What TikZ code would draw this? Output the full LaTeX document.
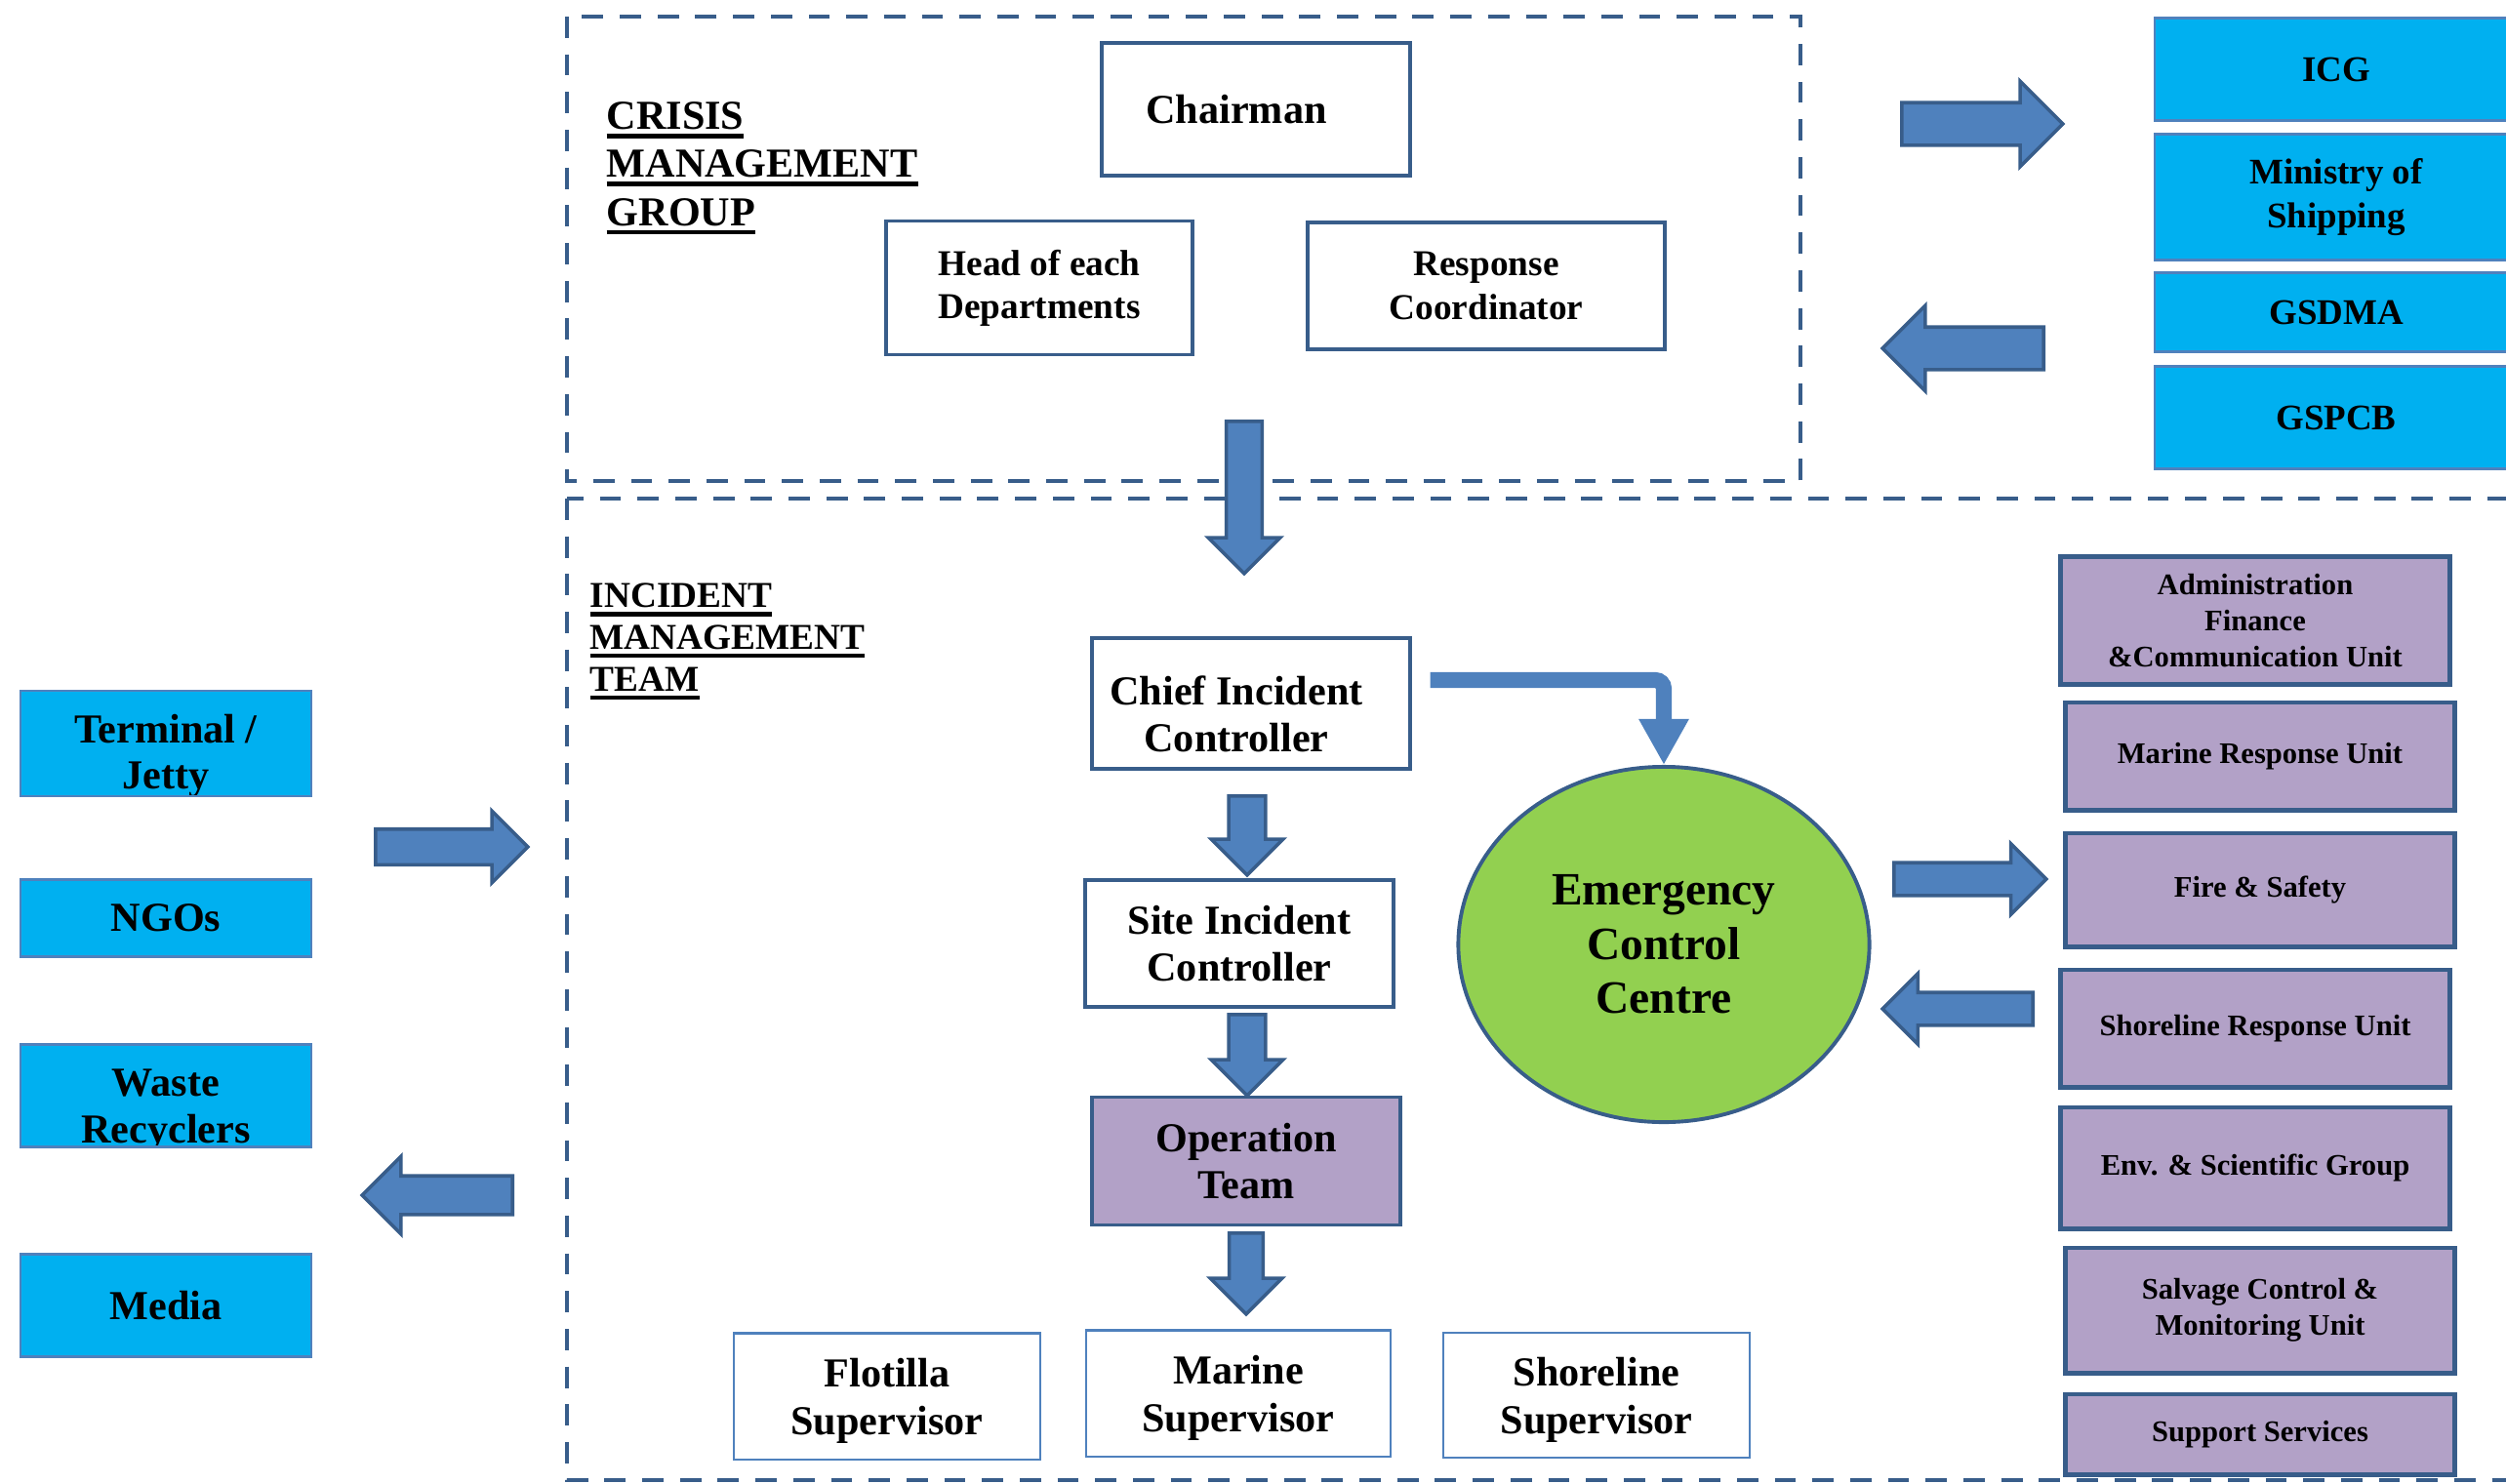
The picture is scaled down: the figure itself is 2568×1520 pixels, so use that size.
\documentclass[tikz,border=0pt]{standalone}
\usepackage{fontspec}
\setmainfont{Liberation Serif}
\usetikzlibrary{calc,shapes.geometric,shapes.arrows,arrows.meta}
\definecolor{boxline}{RGB}{56,93,138}
\definecolor{arrowfill}{RGB}{79,129,189}
\definecolor{agency}{RGB}{0,176,240}
\definecolor{unitfill}{RGB}{178,161,199}
\definecolor{eccgreen}{RGB}{146,208,80}
\newcommand{\ulword}[1]{\setbox0\hbox{#1}\leavevmode\rlap{\rule[-2.6pt]{\wd0}{1.3pt}}\box0}

\tikzset{
  groupframe/.style={boxline,line width=1.4pt,dash pattern=on 6.2pt off 4.8pt},
  grouplabel/.style={inner sep=0pt,align=left,font=\bfseries\fontsize{12}{14}\selectfont},
  rolebox/.style={draw=boxline,line width=1.1pt,fill=white,inner sep=1pt,align=center,font=\bfseries\fontsize{12}{13.5}\selectfont},
  roletext/.style={inner sep=0pt,align=center,font=\bfseries\fontsize{12}{13.5}\selectfont},
  supbox/.style={draw=arrowfill,line width=0.6pt,fill=white,inner sep=1pt,align=center,font=\bfseries\fontsize{12}{14}\selectfont},
  agencybox/.style={draw=arrowfill,line width=0.6pt,fill=agency,inner sep=1pt,align=center,font=\bfseries\fontsize{10.5}{12.6}\selectfont},
  unitbox/.style={draw=boxline,line width=1.4pt,fill=unitfill,inner sep=1pt,align=center,minimum width=3.98cm,font=\bfseries\fontsize{8.7}{10.5}\selectfont},
  blockarrow/.style={single arrow,draw=boxline,fill=arrowfill,line width=1pt,inner xsep=0pt,single arrow tip angle=90,anchor=tail},
  elbowline/.style={arrowfill,line width=4.6pt,rounded corners=2.5pt,-{Triangle[length=13.4pt,width=13.7pt]}}
}

\begin{document}
\begin{tikzpicture}[x=0.01cm,y=-0.01cm]
\useasboundingbox (0,0) rectangle (2568,1520);

% group frames
\draw[groupframe] (581,17) rectangle (1845,493);
\draw[groupframe] (581,511) rectangle (2620,1517);
\node[grouplabel,anchor=north west] (cmglabel) at (621,104) {\ulword{CRISIS}\\\ulword{MANAGEMENT}\\\ulword{GROUP}};
\node[grouplabel,anchor=north west,font=\bfseries\fontsize{10.6}{12.2}\selectfont] (imtlabel) at (604,597) {\ulword{INCIDENT}\\\ulword{MANAGEMENT}\\\ulword{TEAM}};

% crisis management group
\node[rolebox,minimum width=3.15cm,minimum height=1.36cm,label={[roletext,xshift=-0.2cm]center:Chairman}] (chair) at (1287,112) {};
\node[rolebox,minimum width=3.14cm,minimum height=1.37cm,font=\bfseries\fontsize{10.6}{12.6}\selectfont] (heads) at (1065,295) {Head of each\\Departments};
\node[rolebox,minimum width=3.66cm,minimum height=1.30cm,font=\bfseries\fontsize{10.6}{12.6}\selectfont] (respco) at (1523,293) {Response\\Coordinator};

% outside agencies (right)
\node[agencybox,minimum width=3.72cm,minimum height=1.05cm] (icg) at (2394,71) {ICG};
\node[agencybox,minimum width=3.72cm,minimum height=1.29cm] (mos) at (2394,202) {Ministry of\\Shipping};
\node[agencybox,minimum width=3.72cm,minimum height=0.81cm] (gsdma) at (2394,320) {GSDMA};
\node[agencybox,minimum width=3.72cm,minimum height=1.05cm] (gspcb) at (2394,428) {GSPCB};
\node[blockarrow,minimum height=1.65cm,minimum width=0.84cm,inner ysep=0.20cm,single arrow head extend=0.22cm] (toagency) at (1947,127) {};
\node[blockarrow,rotate=180,minimum height=1.65cm,minimum width=0.84cm,inner ysep=0.20cm,single arrow head extend=0.22cm] (fromagency) at (2096,357) {};

% outside parties (left)
\node[agencybox,minimum width=2.98cm,minimum height=1.08cm,path picture={
  \node[roletext] at ($(path picture bounding box.center)+(0,13)$) {Terminal /\\Jetty};}] (term) at (170,762) {};
\node[agencybox,minimum width=2.98cm,minimum height=0.79cm,font=\bfseries\fontsize{12}{13.5}\selectfont] (ngo) at (170,941) {NGOs};
\node[agencybox,minimum width=2.98cm,minimum height=1.05cm,path picture={
  \node[roletext] at ($(path picture bounding box.center)+(0,15)$) {Waste\\Recyclers};}] (waste) at (170,1123) {};
\node[agencybox,minimum width=2.98cm,minimum height=1.05cm,font=\bfseries\fontsize{12}{13.5}\selectfont] (media) at (170,1338) {Media};
\node[blockarrow,minimum height=1.56cm,minimum width=0.70cm,inner ysep=0.165cm,single arrow head extend=0.185cm] (toimt) at (383,868) {};
\node[blockarrow,rotate=180,minimum height=1.54cm,minimum width=0.76cm,inner ysep=0.18cm,single arrow head extend=0.20cm] (fromimt) at (527,1225) {};

% incident management team
\node[blockarrow,rotate=-90,minimum height=1.56cm,minimum width=0.70cm,inner ysep=0.165cm,single arrow head extend=0.185cm] (cmgdown) at (1275,430) {};
\node[rolebox,minimum width=3.25cm,minimum height=1.34cm,label={[roletext,xshift=-0.15cm,yshift=-0.11cm]center:{Chief Incident\\Controller}}] (cic) at (1282,721) {};
\node[rolebox,minimum width=3.15cm,minimum height=1.30cm] (sic) at (1270,967) {Site Incident\\Controller};
\node[rolebox,fill=unitfill,minimum width=3.15cm,minimum height=1.31cm] (optm) at (1277,1190) {Operation\\Team};
\node[blockarrow,rotate=-90,minimum height=0.81cm,minimum width=0.70cm,inner ysep=0.17cm,single arrow head extend=0.18cm] (cicdown) at (1278,814) {};
\node[blockarrow,rotate=-90,minimum height=0.83cm,minimum width=0.70cm,inner ysep=0.17cm,single arrow head extend=0.18cm] (sicdown) at (1278,1038) {};
\node[blockarrow,rotate=-90,minimum height=0.83cm,minimum width=0.70cm,inner ysep=0.155cm,single arrow head extend=0.195cm] (optdown) at (1277,1262) {};
\node[supbox,minimum width=3.14cm,minimum height=1.29cm,text depth=0pt] (flotilla) at (909,1431) {Flotilla\\Supervisor};
\node[supbox,minimum width=3.11cm,minimum height=1.29cm,text depth=0pt] (marsup) at (1269,1428) {Marine\\Supervisor};
\node[supbox,minimum width=3.13cm,minimum height=1.28cm,text depth=0pt] (shoresup) at (1636,1430) {Shoreline\\Supervisor};

\node[ellipse,draw=boxline,line width=1.1pt,fill=eccgreen,minimum width=4.21cm,minimum height=3.64cm,align=center,font=\bfseries\fontsize{13.5}{15.8}\selectfont] (ecc) at (1705,968) {Emergency\\Control\\Centre};
\draw[elbowline] ($(cic.east)+(19,-24)$) -| (ecc.north);

% response units
\node[unitbox,minimum height=1.31cm] (admin) at (2311,636) {Administration\\Finance\\\&Communication Unit};
\node[unitbox,minimum height=1.10cm] (marunit) at (2316,775) {Marine Response Unit};
\node[unitbox,minimum height=1.16cm] (fire) at (2316,912) {Fire \& Safety};
\node[unitbox,minimum height=1.20cm] (shoreunit) at (2311,1054) {Shoreline Response Unit};
\node[unitbox,minimum height=1.24cm] (env) at (2311,1197) {Env. \& Scientific Group};
\node[unitbox,minimum height=1.28cm] (salvage) at (2316,1343) {Salvage Control \&\\Monitoring Unit};
\node[unitbox,minimum height=0.82cm] (support) at (2316,1470) {Support Services};
\node[blockarrow,minimum height=1.56cm,minimum width=0.69cm,inner ysep=0.15cm,single arrow head extend=0.195cm] (tounits) at (1939,901) {};
\node[blockarrow,rotate=180,minimum height=1.54cm,minimum width=0.69cm,inner ysep=0.15cm,single arrow head extend=0.195cm] (fromunits) at (2085,1034) {};
\end{tikzpicture}
\end{document}
